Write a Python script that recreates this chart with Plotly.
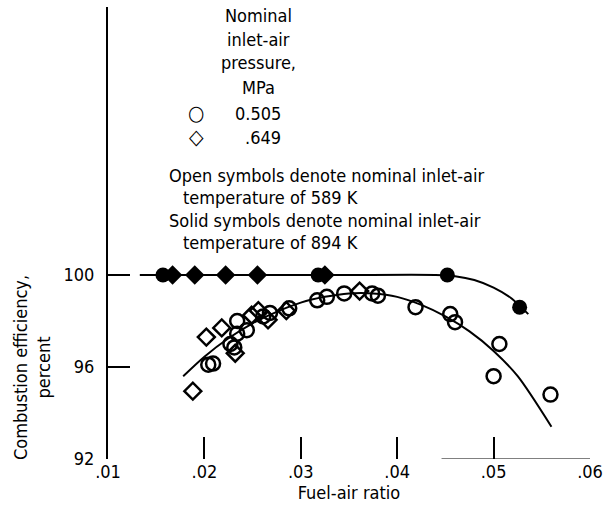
import plotly.graph_objects as go

# ---------------- data ----------------
# Open symbols: nominal inlet-air temperature 589 K
open_circle_x = [0.0204, 0.0209, 0.0227, 0.0231, 0.0234, 0.0234, 0.0244, 0.0261, 0.0268,
                 0.0288, 0.0317, 0.0327, 0.0345, 0.0374, 0.0380, 0.0419, 0.0455, 0.0460,
                 0.0506, 0.0500, 0.0559]
open_circle_y = [96.1, 96.15, 97.0, 96.85, 97.45, 98.0, 97.6, 98.2, 98.35,
                 98.55, 98.9, 99.05, 99.2, 99.2, 99.1, 98.6, 98.3, 97.95,
                 97.0, 95.6, 94.8]
open_diamond_x = [0.0188, 0.0202, 0.0218, 0.0232, 0.0249, 0.0256, 0.0266, 0.0285, 0.0361]
open_diamond_y = [94.95, 97.3, 97.7, 96.6, 98.25, 98.45, 98.05, 98.45, 99.3]

# Solid symbols: nominal inlet-air temperature 894 K
solid_circle_x = [0.0157, 0.0318, 0.0452, 0.0527]
solid_circle_y = [100.0, 100.0, 100.0, 98.6]
solid_diamond_x = [0.0167, 0.0190, 0.0222, 0.0255, 0.0325]
solid_diamond_y = [100.0, 100.0, 100.0, 100.0, 100.0]

# Faired curves
open_fit_x = [0.0178, 0.0200, 0.0225, 0.0250, 0.0275, 0.0300, 0.0325, 0.0350, 0.0375,
              0.0400, 0.0425, 0.0450, 0.0475, 0.0500, 0.0525, 0.0560]
open_fit_y = [95.6, 96.45, 97.25, 97.9, 98.4, 98.8, 99.05, 99.2, 99.2,
              99.05, 98.7, 98.2, 97.55, 96.7, 95.6, 93.4]
solid_fit_x = [0.0133, 0.0250, 0.0350, 0.0440, 0.0460, 0.0480, 0.0500, 0.0518, 0.0536]
solid_fit_y = [100.0, 100.0, 100.0, 100.0, 99.95, 99.78, 99.45, 99.0, 98.3]

x_ticks = [0.01, 0.02, 0.03, 0.04, 0.05, 0.06]
x_tick_labels = [".01", ".02", ".03", ".04", ".05", ".06"]
y_ticks = [92, 96, 100]
y_tick_labels = ["92", "96", "100"]

FONT = "Liberation Sans Narrow, DejaVu Sans Condensed, Arial Narrow, sans-serif"
FS = 18

# plot-area geometry (pixels)
W, H = 610, 509
L, R, T, B = 108, 590, 7, 459


def px(xp):
    return (xp - L) / (R - L)


def py(yp):
    return (B - yp) / (B - T)


fig = go.Figure()

fig.add_trace(go.Scatter(x=open_fit_x, y=open_fit_y, mode="lines",
                         line=dict(color="black", width=2, shape="spline", smoothing=0.8),
                         hoverinfo="skip"))
fig.add_trace(go.Scatter(x=solid_fit_x, y=solid_fit_y, mode="lines",
                         line=dict(color="black", width=2, shape="spline", smoothing=0.6),
                         hoverinfo="skip"))

fig.add_trace(go.Scatter(x=open_circle_x, y=open_circle_y, mode="markers",
                         marker=dict(symbol="circle-open", size=14, color="black",
                                     line=dict(width=2.5, color="black"))))
fig.add_trace(go.Scatter(x=open_diamond_x, y=open_diamond_y, mode="markers",
                         marker=dict(symbol="diamond-open", size=13, color="black",
                                     line=dict(width=2.5, color="black"))))
fig.add_trace(go.Scatter(x=solid_circle_x, y=solid_circle_y, mode="markers",
                         marker=dict(symbol="circle", size=15, color="black")))
fig.add_trace(go.Scatter(x=solid_diamond_x, y=solid_diamond_y, mode="markers",
                         marker=dict(symbol="diamond", size=15, color="black")))

ann = []


def text(s, xp, yp, xanchor="center", size=FS, angle=0):
    ann.append(dict(text=s, xref="paper", yref="paper", x=px(xp), y=py(yp),
                    xanchor=xanchor, yanchor="middle", showarrow=False,
                    textangle=angle, font=dict(family=FONT, size=size, color="black")))


# key block
text("Nominal", 258, 15)
text("inlet-air", 258, 39)
text("pressure,", 258, 63)
text("MPa", 258, 87)
text("<b>○</b>", 196, 113, size=21)
text("<b>◇</b>", 196, 137, size=21)
text("0.505", 283, 113, xanchor="right")
text(".649", 283, 137, xanchor="right")
text("Open symbols denote nominal inlet-air", 167, 175, xanchor="left")
text("temperature of 589 K", 181, 197, xanchor="left")
text("Solid symbols denote nominal inlet-air", 167, 220, xanchor="left")
text("temperature of 894 K", 181, 242, xanchor="left")

# y-axis title
text("Combustion efficiency,<br>percent", 32, 368, angle=-90)

fig.update_layout(
    width=W, height=H,
    margin=dict(l=L, r=W - R, t=T, b=H - B, pad=0),
    paper_bgcolor="white", plot_bgcolor="white",
    showlegend=False,
    font=dict(family=FONT, size=FS, color="black"),
    annotations=ann,
    shapes=[dict(type="line", xref="x", yref="y", x0=0.0446, x1=0.06, y0=92, y1=92,
                 line=dict(color="black", width=1))],
)

fig.update_xaxes(range=[0.01, 0.06], showgrid=False, zeroline=False, showline=False,
                 tickmode="array", tickvals=x_ticks, ticktext=x_tick_labels,
                 ticks="inside", ticklen=22, tickwidth=2, tickcolor="black",
                 tickfont=dict(family=FONT, size=FS),
                 title=dict(text="Fuel-air ratio", font=dict(family=FONT, size=FS), standoff=5))

fig.update_yaxes(range=[92, 92 + (B - T) / 23.0], showgrid=False, zeroline=False,
                 showline=True, linecolor="black", linewidth=2,
                 tickmode="array", tickvals=y_ticks, ticktext=y_tick_labels,
                 ticks="", ticklabelstandoff=8,
                 tickfont=dict(family=FONT, size=FS),
                 minor=dict(tickmode="array", tickvals=[96, 100], ticks="inside",
                            ticklen=22, tickwidth=2, tickcolor="black", showgrid=False))

fig.write_html("out.html")
